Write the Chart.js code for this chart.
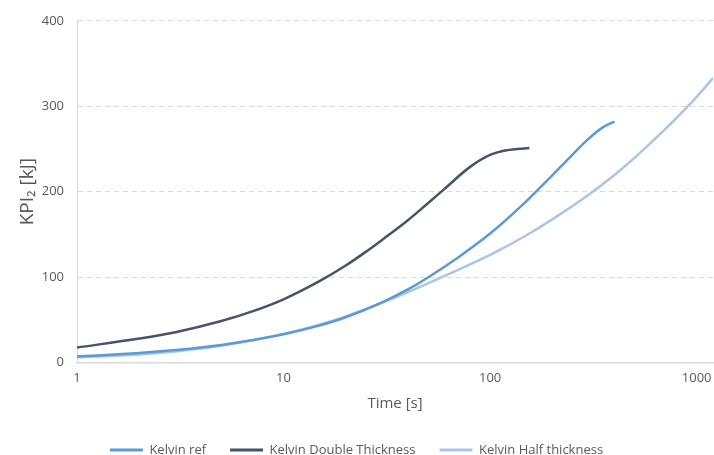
<!DOCTYPE html>
<html>
<head>
<meta charset="utf-8">
<script src="https://cdn.jsdelivr.net/npm/chart.js@4/dist/chart.umd.min.js"></script>
<style>
  html, body { margin: 0; padding: 0; background: #ffffff; }
  #wrap { width: 714px; height: 455px; }
</style>
</head>
<body>
<div id="wrap"><canvas id="c" width="714" height="455"></canvas></div>
<script>
// Time samples [s] and KPI2 energy [kJ] for each variant
const refTime    = [1, 2, 3, 5, 10, 15, 20, 30, 40, 50, 70, 100, 150, 200, 250, 300, 350, 400];
const refKpi     = [7, 11, 14.5, 20.5, 33, 43.5, 53, 70.5, 85.5, 99.5, 123, 151, 189, 219, 243, 262, 275, 282];

const doubleTime = [1, 2, 3, 5, 7, 10, 15, 20, 25, 30, 40, 50, 60, 80, 100, 120, 155];
const doubleKpi  = [17.5, 28, 35.5, 48.5, 59.5, 74, 95.5, 113.5, 129.5, 143.5, 166.5, 186.5, 203, 229, 243, 248.5, 251];

const halfTime   = [1, 2, 3, 5, 10, 15, 20, 30, 40, 50, 70, 100, 150, 200, 300, 400, 500, 700, 1000, 1200];
const halfKpi    = [6, 9.5, 13, 19.5, 33.5, 44.5, 54, 70, 82.5, 92.7, 108.5, 126, 149, 167.5, 196.5, 219.5, 239.5, 272.5, 311, 333];

const seriesNames = ['Kelvin ref', 'Kelvin Double Thickness', 'Kelvin Half thickness'];
const xTickValues = [1, 10, 100, 1000];
const yTickValues = [0, 100, 200, 300, 400];

const toPoints = (xs, ys) => xs.map((x, i) => ({ x: x, y: ys[i] }));

const FONT = "'Open Sans', 'Liberation Sans', sans-serif";
const TEXT = '#595959';

const lineStyle = (color) => ({
  borderColor: color,
  backgroundColor: color,
  borderWidth: 2.5,
  pointRadius: 0,
  pointHoverRadius: 0,
  cubicInterpolationMode: 'monotone',
  fill: false
});

new Chart(document.getElementById('c'), {
  type: 'line',
  data: {
    datasets: [
      Object.assign({ label: seriesNames[0], data: toPoints(refTime, refKpi) }, lineStyle('#5B9BD5')),
      Object.assign({ label: seriesNames[1], data: toPoints(doubleTime, doubleKpi) }, lineStyle('#44546A')),
      Object.assign({ label: seriesNames[2], data: toPoints(halfTime, halfKpi) }, lineStyle('#A9C5E7'))
    ]
  },
  options: {
    responsive: false,
    animation: false,
    events: [],
    layout: { padding: { left: 0, right: 1, top: 19, bottom: -11.5 } },
    plugins: {
      tooltip: { enabled: false },
      legend: {
        position: 'bottom',
        labels: {
          font: { family: FONT, size: 13 },
          color: TEXT,
          boxWidth: 33,
          boxHeight: 3,
          padding: 24,
          generateLabels: (chart) => chart.data.datasets.map((ds, i) => ({
            text: ds.label,
            fillStyle: ds.borderColor,
            strokeStyle: ds.borderColor,
            lineWidth: 0,
            fontColor: TEXT,
            datasetIndex: i
          }))
        }
      }
    },
    scales: {
      x: {
        type: 'logarithmic',
        min: 1,
        max: 1200,
        afterBuildTicks: (scale) => { scale.ticks = xTickValues.map(v => ({ value: v })); },
        afterFit: (scale) => {
          scale.height = 57;
          // the plot runs to the right edge; the last label fits inside
          scale.paddingLeft = 0;
          scale.paddingRight = 0;
        },
        ticks: {
          font: { family: FONT, size: 13 },
          color: TEXT,
          maxRotation: 0,
          autoSkip: false,
          padding: 8,
          callback: (v) => String(v)
        },
        grid: { display: false, drawTicks: false },
        border: { display: true, color: '#D9D9D9', width: 1.5 },
        title: {
          display: true,
          text: 'Time [s]',
          font: { family: FONT, size: 15 },
          color: TEXT,
          padding: { top: 4, bottom: 7 }
        }
      },
      y: {
        type: 'linear',
        min: 0,
        max: 400,
        afterBuildTicks: (scale) => { scale.ticks = yTickValues.map(v => ({ value: v })); },
        afterFit: (scale) => { scale.width = 77; },
        ticks: {
          font: { family: FONT, size: 13 },
          color: TEXT,
          padding: 13
        },
        grid: {
          color: '#D9D9D9',
          lineWidth: 1,
          drawTicks: false
        },
        border: { display: true, color: '#D9D9D9', width: 1, dash: [5, 4] },
        title: {
          display: true,
          text: 'KPI₂ [kJ]',
          font: { family: FONT, size: 19 },
          color: TEXT,
          padding: { top: 16, bottom: 0 }
        }
      }
    }
  }
});
</script>
</body>
</html>
